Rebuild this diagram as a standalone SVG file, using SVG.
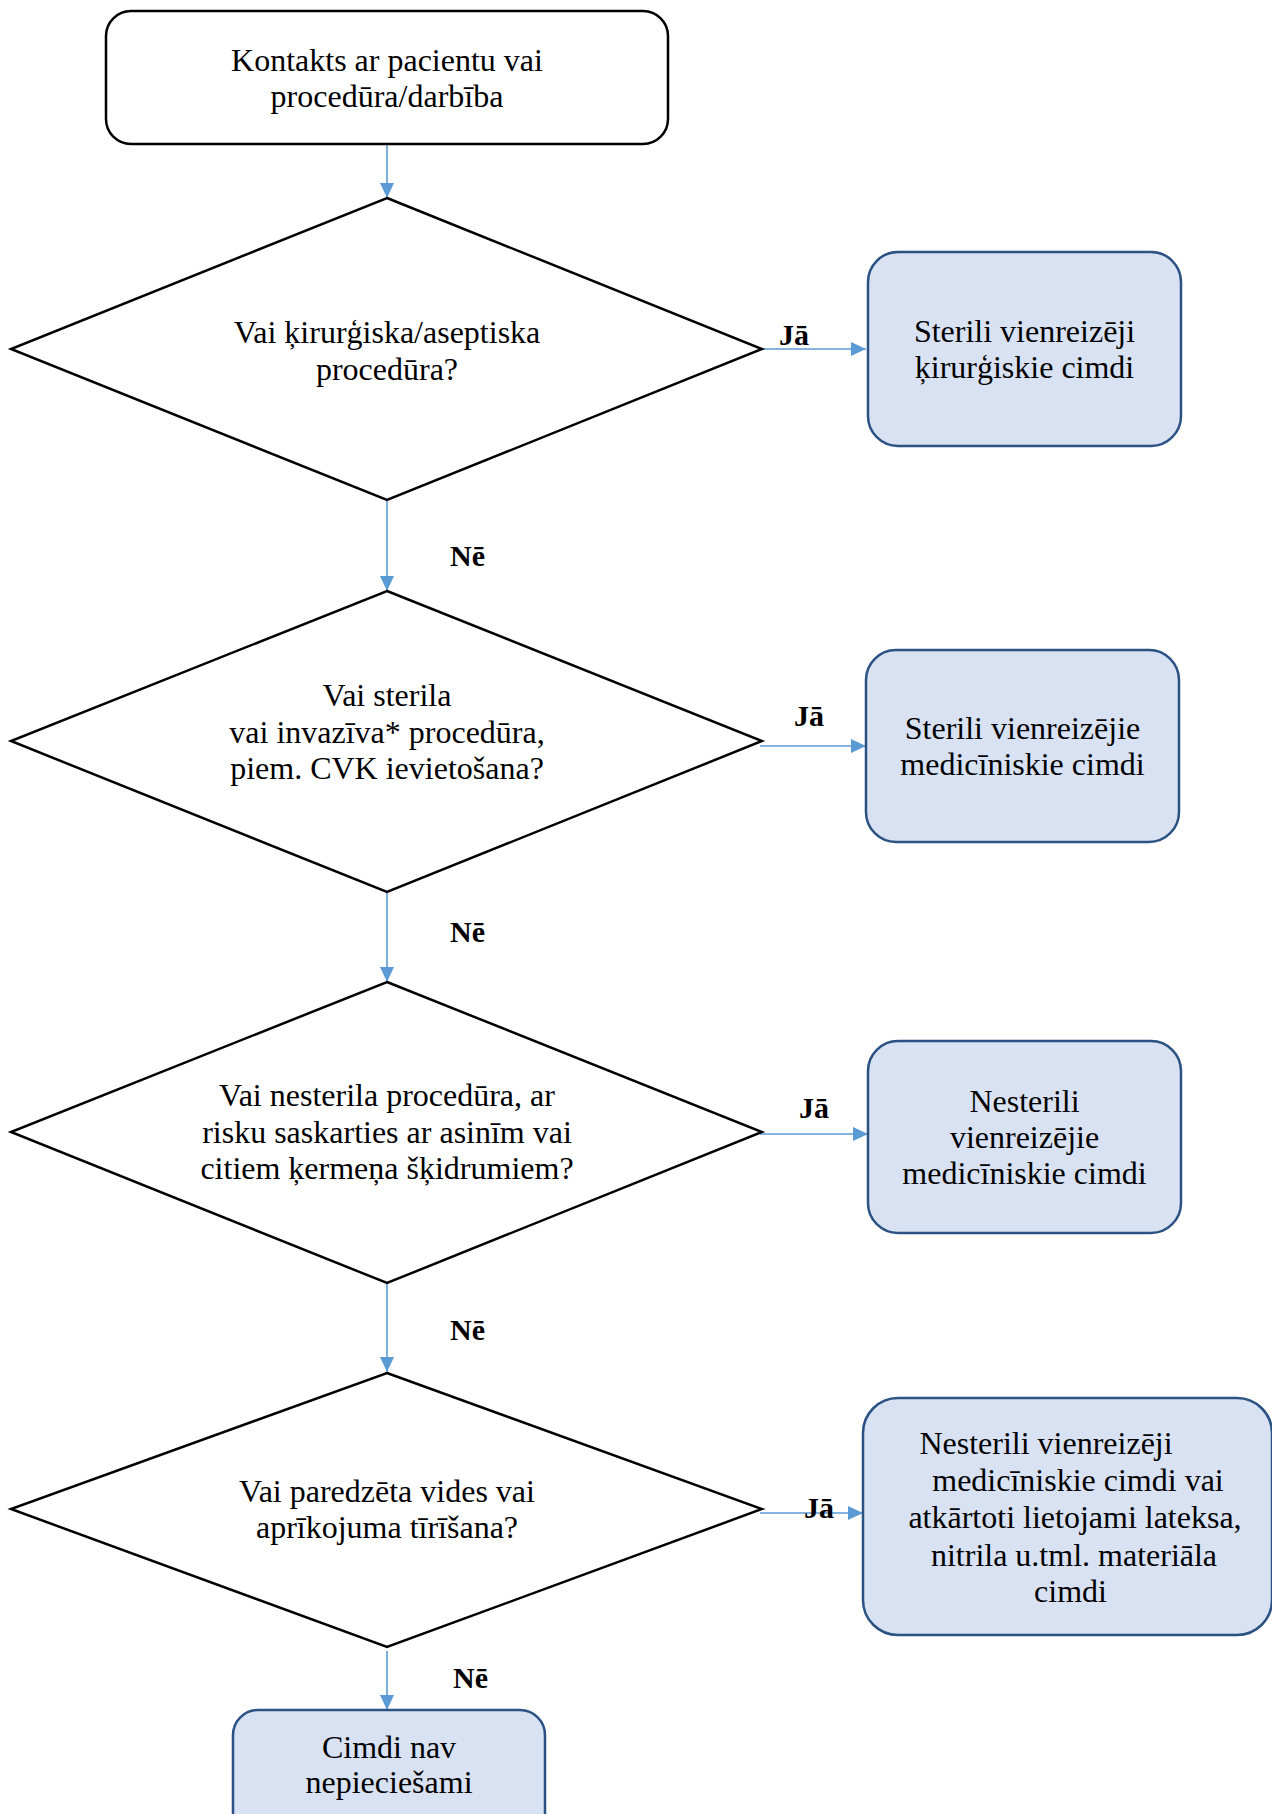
<svg xmlns="http://www.w3.org/2000/svg" width="1272" height="1814" viewBox="0 0 1272 1814">
<style>
.t{font-family:"Liberation Serif","Times New Roman",serif;font-size:32px;fill:#000;text-anchor:middle}
.lbl{font-family:"Liberation Serif","Times New Roman",serif;font-size:30px;font-weight:bold;fill:#000}
.start{fill:#fff;stroke:#000;stroke-width:2.5}
.dec{fill:#fff;stroke:#000;stroke-width:2.5;stroke-linejoin:miter}
.res{fill:#D9E2F3;stroke:#2B5283;stroke-width:2.5}
.con{stroke:#5B9BD5;stroke-width:1.6;fill:none}
</style>
<defs>
<marker id="ah" markerUnits="userSpaceOnUse" markerWidth="16" markerHeight="14" refX="15" refY="7" orient="auto">
<path d="M0,0 L15,7 L0,14 z" fill="#5B9BD5"/>
</marker>
</defs>
<rect width="1272" height="1814" fill="#fff"/>
<g id="connectors">
<line class="con" x1="387" y1="144" x2="387" y2="198" marker-end="url(#ah)"/>
<line class="con" x1="762" y1="349" x2="866" y2="349" marker-end="url(#ah)"/>
<line class="con" x1="387" y1="500" x2="387" y2="591" marker-end="url(#ah)"/>
<line class="con" x1="760" y1="746" x2="866" y2="746" marker-end="url(#ah)"/>
<line class="con" x1="387" y1="892" x2="387" y2="982" marker-end="url(#ah)"/>
<line class="con" x1="760" y1="1134" x2="868" y2="1134" marker-end="url(#ah)"/>
<line class="con" x1="387" y1="1283" x2="387" y2="1372" marker-end="url(#ah)"/>
<line class="con" x1="760" y1="1513" x2="863" y2="1513" marker-end="url(#ah)"/>
<line class="con" x1="387" y1="1651" x2="387" y2="1710" marker-end="url(#ah)"/>
<text class="lbl" x="779" y="345">Jā</text>
<text class="lbl" x="794" y="726">Jā</text>
<text class="lbl" x="799" y="1118">Jā</text>
<text class="lbl" x="804" y="1518">Jā</text>
<text class="lbl" x="450" y="566">Nē</text>
<text class="lbl" x="450" y="942">Nē</text>
<text class="lbl" x="450" y="1340">Nē</text>
<text class="lbl" x="453" y="1688">Nē</text>
</g>
<g id="start">
<rect class="start" x="106" y="11" width="562" height="133" rx="25"/>
<text class="t" x="387" y="71">Kontakts ar pacientu vai</text>
<text class="t" x="387" y="107">procedūra/darbība</text>
</g>
<g id="q1">
<polygon class="dec" points="387,198 762,349 387,500 11,349"/>
<text class="t" x="387" y="343">Vai ķirurģiska/aseptiska</text>
<text class="t" x="387" y="380">procedūra?</text>
</g>
<g id="r1">
<rect class="res" x="868" y="252" width="313" height="194" rx="30"/>
<text class="t" x="1024.5" y="342">Sterili vienreizēji</text>
<text class="t" x="1024.5" y="378">ķirurģiskie cimdi</text>
</g>
<g id="q2">
<polygon class="dec" points="387,591 762,741 387,892 11,741"/>
<text class="t" x="387" y="706">Vai sterila</text>
<text class="t" x="387" y="743">vai invazīva* procedūra,</text>
<text class="t" x="387" y="779">piem. CVK ievietošana?</text>
</g>
<g id="r2">
<rect class="res" x="866" y="650" width="313" height="192" rx="30"/>
<text class="t" x="1022.5" y="739">Sterili vienreizējie</text>
<text class="t" x="1022.5" y="775">medicīniskie cimdi</text>
</g>
<g id="q3">
<polygon class="dec" points="387,982 762,1132 387,1283 11,1132"/>
<text class="t" x="387" y="1106">Vai nesterila procedūra, ar</text>
<text class="t" x="387" y="1143">risku saskarties ar asinīm vai</text>
<text class="t" x="387" y="1179">citiem ķermeņa šķidrumiem?</text>
</g>
<g id="r3">
<rect class="res" x="868" y="1041" width="313" height="192" rx="30"/>
<text class="t" x="1024.5" y="1112">Nesterili</text>
<text class="t" x="1024.5" y="1148">vienreizējie</text>
<text class="t" x="1024.5" y="1184">medicīniskie cimdi</text>
</g>
<g id="q4">
<polygon class="dec" points="387,1373 762,1509 387,1647 11,1509"/>
<text class="t" x="387" y="1502">Vai paredzēta vides vai</text>
<text class="t" x="387" y="1538">aprīkojuma tīrīšana?</text>
</g>
<g id="r4">
<rect class="res" x="863" y="1398" width="409" height="237" rx="35"/>
<text class="t" x="1046" y="1454">Nesterili vienreizēji</text>
<text class="t" x="1078" y="1491">medicīniskie cimdi vai</text>
<text class="t" x="1075" y="1528">atkārtoti lietojami lateksa,</text>
<text class="t" x="1074" y="1566">nitrila u.tml. materiāla</text>
<text class="t" x="1070.5" y="1602">cimdi</text>
</g>
<g id="end">
<rect class="res" x="233" y="1710" width="312" height="130" rx="25"/>
<text class="t" x="389" y="1758">Cimdi nav</text>
<text class="t" x="389" y="1793">nepieciešami</text>
</g>
</svg>
